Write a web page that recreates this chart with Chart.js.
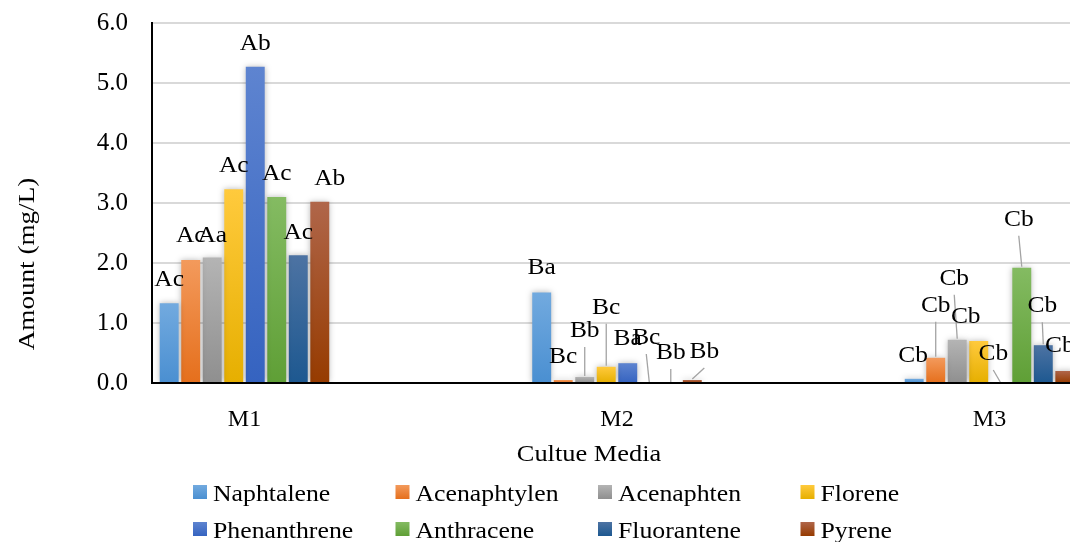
<!DOCTYPE html>
<html>
<head>
<meta charset="utf-8">
<script src="https://cdn.jsdelivr.net/npm/chart.js@4.4.0/dist/chart.umd.min.js"></script>
<style>
  html, body { margin: 0; padding: 0; background: #ffffff; }
  canvas { display: block; }
</style>
</head>
<body>
<canvas id="chart" width="1070" height="542"></canvas>
<script>
// ---- data -------------------------------------------------------------
const categories = ['M1', 'M2', 'M3'];

const seriesNames = ['Naphtalene', 'Acenaphtylen', 'Acenaphten', 'Florene',
                     'Phenanthrene', 'Anthracene', 'Fluorantene', 'Pyrene'];

// amounts in mg/L for M1, M2, M3
const naphtalene   = [1.33, 1.51, 0.07];
const acenaphtylen = [2.05, 0.05, 0.42];
const acenaphten   = [2.09, 0.10, 0.72];
const florene      = [3.23, 0.27, 0.70];
const phenanthrene = [5.27, 0.33, 0.00];
const anthracene   = [3.10, 0.00, 1.92];
const fluorantene  = [2.13, 0.00, 0.63];
const pyrene       = [3.02, 0.05, 0.20];

// significance letters shown above each bar
const lettersNaphtalene   = ['Ac', 'Ba', 'Cb'];
const lettersAcenaphtylen = ['Ac', 'Bc', 'Cb'];
const lettersAcenaphten   = ['Aa', 'Bb', 'Cb'];
const lettersFlorene      = ['Ac', 'Bc', 'Cb'];
const lettersPhenanthrene = ['Ab', 'Ba', 'Cb'];
const lettersAnthracene   = ['Ac', 'Bc', 'Cb'];
const lettersFluorantene  = ['Ac', 'Bb', 'Cb'];
const lettersPyrene       = ['Ab', 'Bb', 'Cb'];

const yTickValues = [0, 1, 2, 3, 4, 5, 6];

const seriesValues = [naphtalene, acenaphtylen, acenaphten, florene,
                      phenanthrene, anthracene, fluorantene, pyrene];
const seriesLetters = [lettersNaphtalene, lettersAcenaphtylen, lettersAcenaphten, lettersFlorene,
                       lettersPhenanthrene, lettersAnthracene, lettersFluorantene, lettersPyrene];

// ---- styling ----------------------------------------------------------
const SERIF = '"Liberation Serif", "Times New Roman", serif';

// [light top, dark bottom] for each series' bar gradient
const palette = [
  ['#72aadf', '#4a8fd1'],
  ['#f39a5c', '#e56f1c'],
  ['#b4b4b4', '#8f8f8f'],
  ['#ffca3d', '#e6af00'],
  ['#5e84d0', '#3563c0'],
  ['#84bb62', '#5f9f36'],
  ['#4d73a3', '#1d5890'],
  ['#b0664a', '#963b00']
];

// visible x range (category n sits at x = n)
const X_MIN = 0.7517, X_MAX = 3.2161;

// label placement relative to the top centre of each bar: [dx, dy]
const labelOffsets = [
  [[0, -25], [0, -26], [-1, -25]],
  [[0, -26], [0, -25], [0, -54]],
  [[0, -24], [0, -48], [-3, -63]],
  [[0, -25], [0, -61], [-13, -26]],
  [[0, -25], [0, -26], [-7, -31]],
  [[0, -25], [-3, -47], [-3, -50]],
  [[0, -24], [0, -32], [-1, -41]],
  [[10, -25], [12, -30], [-5, -27]]
];

function barGradient(context, di) {
  const chart = context.chart;
  const [light, dark] = palette[di];
  if (!chart.chartArea || !context.parsed) return dark;
  const y = chart.scales.y;
  const top = y.getPixelForValue(context.parsed.y);
  const bottom = y.getPixelForValue(0);
  if (bottom - top < 2) return dark;
  const g = chart.ctx.createLinearGradient(0, top, 0, bottom);
  g.addColorStop(0, light);
  g.addColorStop(1, dark);
  return g;
}

function stretchedText(ctx, text, x, y, sx) {
  ctx.save();
  ctx.translate(x, y);
  ctx.scale(sx, 1);
  ctx.fillText(text, 0, 0);
  ctx.restore();
}

// soft halo behind the bars
const barHalo = {
  id: 'barHalo',
  beforeDatasetsDraw(chart) {
    const ctx = chart.ctx;
    ctx.save();
    ctx.shadowColor = 'rgba(0,0,0,0.28)';
    ctx.shadowBlur = 6;
  },
  afterDatasetsDraw(chart) {
    chart.ctx.restore();
  }
};

// letter labels with leader lines when lifted away from the bar
const letterLabels = {
  id: 'letterLabels',
  afterDatasetsDraw(chart, args, opts) {
    const ctx = chart.ctx;
    ctx.save();
    ctx.font = opts.size + 'px ' + SERIF;
    ctx.textAlign = 'center';
    ctx.textBaseline = 'alphabetic';
    const capHalf = opts.size * 0.662 / 2;
    chart.data.datasets.forEach((ds, di) => {
      const meta = chart.getDatasetMeta(di);
      meta.data.forEach((bar, i) => {
        const [dx, dy] = opts.offsets[di][i];
        const lx = bar.x + dx;
        const ly = bar.y + dy;
        if (dy < -28) {
          ctx.beginPath();
          ctx.strokeStyle = '#a3a3a3';
          ctx.lineWidth = 1.3;
          ctx.moveTo(lx, ly + 18);
          ctx.lineTo(bar.x, bar.y - 1);
          ctx.stroke();
        }
        ctx.fillStyle = '#000';
        stretchedText(ctx, ds.letters[i], lx, ly + capHalf, opts.stretch);
      });
    });
    ctx.restore();
  }
};

// axis titles and the legend grid under the plot
const chartFrame = {
  id: 'chartFrame',
  afterDraw(chart, args, opts) {
    const ctx = chart.ctx;
    ctx.save();
    ctx.fillStyle = '#000';

    // x axis title
    ctx.font = '24px ' + SERIF;
    ctx.textAlign = 'center';
    ctx.textBaseline = 'alphabetic';
    stretchedText(ctx, opts.xTitle, 589, 461, 1.1);

    // y axis title
    ctx.save();
    ctx.translate(34, 264);
    ctx.rotate(-Math.PI / 2);
    ctx.scale(1.13, 1);
    ctx.fillText(opts.yTitle, 0, 0);
    ctx.restore();

    // legend: 4 equal columns, 2 rows
    const colW = 202.5, x0 = 193, base0 = 500.5, rowH = 37, sq = 14;
    ctx.font = '23px ' + SERIF;
    ctx.textAlign = 'left';
    chart.data.datasets.forEach((ds, di) => {
      const col = di % 4, row = Math.floor(di / 4);
      const x = x0 + col * colW;
      const base = base0 + row * rowH;
      const top = base - 15.5;
      const g = ctx.createLinearGradient(0, top, 0, top + sq);
      g.addColorStop(0, palette[di][0]);
      g.addColorStop(1, palette[di][1]);
      ctx.fillStyle = g;
      ctx.fillRect(x, top, sq, sq);
      ctx.fillStyle = '#000';
      stretchedText(ctx, ds.label, x + 20, base, 1.12);
    });
    ctx.restore();
  }
};

const datasets = seriesNames.map((name, di) => ({
  label: name,
  letters: seriesLetters[di],
  data: seriesValues[di].map((v, ci) => ({ x: ci + 1, y: v })),
  backgroundColor: (context) => barGradient(context, di),
  borderWidth: 0,
  categoryPercentage: 0.462,
  barPercentage: 0.88
}));

new Chart(document.getElementById('chart'), {
  type: 'bar',
  data: { datasets },
  plugins: [barHalo, letterLabels, chartFrame],
  options: {
    responsive: false,
    animation: false,
    devicePixelRatio: 1,
    layout: { padding: { top: 23, left: 0, right: 0, bottom: 109 } },
    plugins: {
      legend: { display: false },
      tooltip: { enabled: false },
      letterLabels: { offsets: labelOffsets, size: 24, stretch: 1.06 },
      chartFrame: { xTitle: 'Cultue Media', yTitle: 'Amount (mg/L)' }
    },
    scales: {
      x: {
        type: 'linear',
        min: X_MIN,
        max: X_MAX,
        offset: false,
        grid: { display: false },
        border: { display: true, color: '#000', width: 2 },
        afterBuildTicks: (s) => { s.ticks = categories.map((c, i) => ({ value: i + 1 })); },
        ticks: {
          autoSkip: false,
          maxRotation: 0,
          padding: 14,
          color: '#000',
          font: { family: SERIF, size: 24 },
          callback: (v, i) => categories[i]
        },
        afterFit: (s) => { s.height = 50; s.paddingLeft = 0; s.paddingRight = 0; }
      },
      y: {
        min: 0,
        max: 6,
        afterBuildTicks: (s) => { s.ticks = yTickValues.map(v => ({ value: v })); },
        grid: { color: '#d9d9d9', lineWidth: 2, drawTicks: false },
        border: { display: true, color: '#000', width: 2 },
        ticks: {
          padding: 24,
          color: '#000',
          font: { family: SERIF, size: 25 },
          callback: (v) => Number(v).toFixed(1)
        },
        afterFit: (s) => { s.width = 152; s.paddingTop = 0; s.paddingBottom = 0; }
      }
    }
  }
});
</script>
</body>
</html>
